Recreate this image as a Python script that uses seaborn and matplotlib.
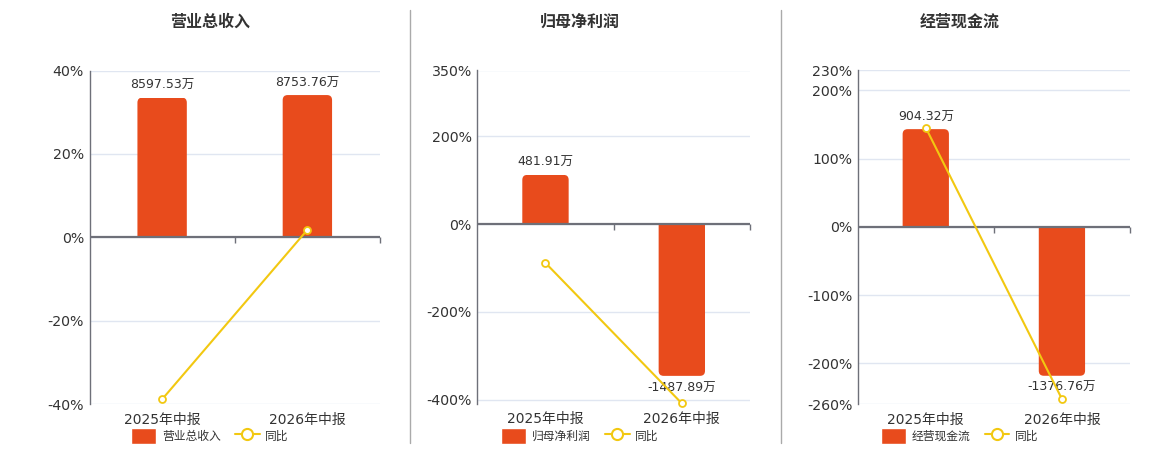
import numpy as np
import matplotlib
matplotlib.use("Agg")
import matplotlib.pyplot as plt
import seaborn as sns
from matplotlib.patches import Patch, FancyBboxPatch, Rectangle
from matplotlib.lines import Line2D

# ------------------------------
# data (万元 / 同比 %)
# ------------------------------
periods = ["2025年中报", "2026年中报"]

revenue = [8597.53, 8753.76]
revenue_yoy = [-38.8, 1.82]

net_profit = [481.91, -1487.89]
net_profit_yoy = [-88.6, -408.75]

cash_flow = [904.32, -1376.76]
cash_flow_yoy = [145.4, -252.2]

rev_ticks = [-40, -20, 0, 20, 40]
np_ticks = [-400, -200, 0, 200, 350]
cf_ticks = [-260, -200, -100, 0, 100, 200, 230]

# ------------------------------
# style
# ------------------------------
sns.set_theme(style="white")
plt.rcParams["font.family"] = ["DejaVu Sans", "Noto Sans CJK SC"]

bar_color = "#E84B1C"
line_color = "#F2C811"
axis_color = "#6E7079"
grid_color = "#E0E6F1"
text_color = "#333333"

W, H = 1160, 450
fig = plt.figure(figsize=(W / 100, H / 100), dpi=100)


def px_rect(l, t, r, b):
    return [l / W, 1 - b / H, (r - l) / W, (b - t) / H]


def round_bar_ends(ax, rect_px, ylim, radius_px=5):
    # rounded box, extended past zero and clipped there -> only far end is round
    l, t, r, b = rect_px
    x0, x1 = ax.get_xlim()
    px_x = (r - l) / (x1 - x0)
    px_y = (b - t) / (ylim[1] - ylim[0])
    ext = 3 * radius_px / px_y
    for bar in list(ax.patches):
        x, w, h = bar.get_x(), bar.get_width(), bar.get_height()
        if h >= 0:
            y0, hh = -ext, h + ext
        else:
            y0, hh = h, -h + ext
        fb = FancyBboxPatch((x, y0), w, hh,
                            boxstyle=f"round,pad=0,rounding_size={radius_px / px_x}",
                            mutation_aspect=px_x / px_y,
                            facecolor=bar.get_facecolor(), edgecolor="none",
                            zorder=bar.get_zorder())
        ax.add_patch(fb)
        clip = Rectangle((x - w, min(0, h)), 3 * w, abs(h), transform=ax.transData)
        fb.set_clip_path(clip)
        bar.set_visible(False)


panels = [
    dict(title="营业总收入", amt=revenue, yoy=revenue_yoy, ticks=rev_ticks,
         ylim=(-40, 40), scale=256.6, rect=(89.5, 70.5, 380, 404.3), cx=210),
    dict(title="归母净利润", amt=net_profit, yoy=net_profit_yoy, ticks=np_ticks,
         ylim=(-409, 350), scale=4.30, rect=(477.3, 70.5, 750, 403.5), cx=580),
    dict(title="经营现金流", amt=cash_flow, yoy=cash_flow_yoy, ticks=cf_ticks,
         ylim=(-260, 230), scale=6.31, rect=(857.7, 70, 1130, 404.3), cx=960),
]

n = len(periods)
for p in panels:
    lo, hi = p["ylim"]
    k = p["scale"]

    # percent axis (ticks + grid)
    ax = fig.add_axes(px_rect(*p["rect"]))
    ax.set_ylim(lo, hi)
    ax.grid(axis="y", color=grid_color, lw=1)
    ax.set_axisbelow(True)
    for s in ["top", "right", "bottom"]:
        ax.spines[s].set_visible(False)
    ax.spines["left"].set_color(axis_color)
    ax.spines["left"].set_linewidth(1)

    # bars on their own scale, zero aligned with 0%
    ax2 = ax.twinx()
    sns.barplot(x=periods, y=p["amt"], ax=ax2, color=bar_color,
                saturation=1, width=0.34, zorder=2)
    ax2.set_ylim(lo * k, hi * k)
    ax2.set_xlim(-0.5, n - 0.5)
    ax2.bar_label(ax2.containers[0], labels=[f"{v:.2f}万" for v in p["amt"]],
                  padding=4, fontsize=9, color=text_color)
    round_bar_ends(ax2, p["rect"], (lo * k, hi * k))
    ax2.axhline(0, color=axis_color, lw=1.6, zorder=3)
    ax2.plot(np.arange(n) + 0.5, np.zeros(n), ls="none", marker=3, ms=4,
             mew=1, color=axis_color, clip_on=False, zorder=3)
    ax2.set_axis_off()

    # yoy line
    ax3 = ax.twinx()
    ax3.set_ylim(lo, hi)
    ax3.plot(np.arange(n), p["yoy"], color=line_color, lw=1.5, marker="o",
             ms=5, mfc="white", mec=line_color, mew=1.3, clip_on=False)
    ax3.set_axis_off()

    ax.set_xlim(-0.5, n - 0.5)
    ax.set_xticks(np.arange(n))
    ax.set_xticklabels(periods)
    ax.set_yticks(p["ticks"])
    ax.set_yticklabels([f"{t}%" for t in p["ticks"]])
    ax.set_ylim(lo, hi)
    ax.tick_params(axis="y", length=0, labelsize=10.2, labelcolor=text_color, pad=4)
    ax.tick_params(axis="x", length=0, labelsize=10, labelcolor=text_color, pad=6)
    ax.set_xlabel("")
    ax.set_ylabel("")

    fig.text(p["cx"] / W, 1 - 22 / H, p["title"], ha="center", va="center",
             fontsize=11.5, fontweight="bold", color=text_color)

    handles = [
        Patch(facecolor=bar_color, label=p["title"]),
        Line2D([], [], color=line_color, lw=1.5, marker="o", ms=8,
               mfc="white", mec=line_color, mew=1.5, label="同比"),
    ]
    fig.legend(handles=handles, loc="center", bbox_to_anchor=(p["cx"] / W, 1 - 436 / H),
               ncol=2, frameon=False, fontsize=8.5, handlelength=2.1,
               handleheight=1.7, columnspacing=1.2, handletextpad=0.5,
               labelcolor=text_color, borderaxespad=0, borderpad=0)

# separators between panels
for x in [410, 781]:
    fig.add_artist(Line2D([x / W, x / W], [1 - 10 / H, 1 - 443 / H],
                          color="#AAAAAA", lw=1))

fig.savefig("out.png", dpi=100)
